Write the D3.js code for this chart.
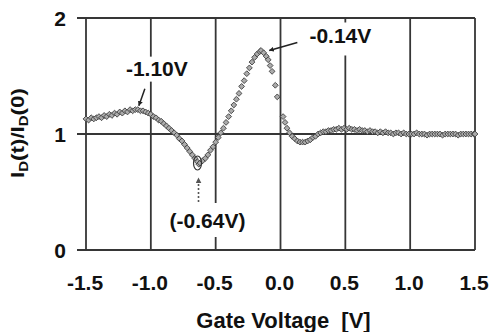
<!DOCTYPE html>
<html>
<head>
<meta charset="utf-8">
<script src="https://cdn.jsdelivr.net/npm/d3@7"></script>
<style>
  html, body { margin: 0; padding: 0; background: #fff; }
  svg { display: block; }
  text { font-family: "Liberation Sans", Arial, sans-serif; font-weight: bold; fill: #111; }
</style>
</head>
<body>
<script>
// ---- data ----
const gateV = [
  -1.50,-1.48,-1.46,-1.44,-1.42,-1.40,-1.38,-1.36,-1.34,-1.32,-1.30,-1.28,-1.26,-1.24,-1.22,-1.20,
  -1.18,-1.16,-1.14,-1.12,-1.10,-1.08,-1.06,-1.04,-1.02,-1.00,-0.98,-0.96,-0.94,-0.92,-0.90,-0.88,
  -0.86,-0.84,-0.82,-0.80,-0.78,-0.76,-0.74,-0.72,-0.70,-0.68,-0.66,-0.64,-0.63,-0.62,-0.60,-0.58,
  -0.56,-0.54,-0.52,-0.50,-0.48,-0.46,-0.44,-0.42,-0.40,-0.38,-0.36,-0.34,-0.32,-0.30,-0.28,-0.26,
  -0.24,-0.22,-0.20,-0.18,-0.16,-0.15,-0.13,-0.11,-0.095,-0.08,-0.065,-0.04,-0.025,0.02,0.035,0.05,
  0.07,0.09,0.11,0.13,0.15,0.17,0.19,0.21,0.23,0.25,0.27,0.29,0.31,0.33,0.35,0.37,0.39,0.41,0.43,
  0.45,0.47,0.49,0.51,0.53,0.55,0.57,0.59,0.61,0.63,0.65,0.67,0.69,0.71,0.73,0.75,0.77,0.79,0.81,
  0.83,0.85,0.87,0.89,0.91,0.93,0.95,0.97,0.99,1.01,1.03,1.05,1.07,1.09,1.11,1.13,1.15,1.17,1.19,
  1.21,1.23,1.25,1.27,1.29,1.31,1.33,1.35,1.37,1.39,1.41,1.43,1.45,1.47,1.49,1.50
];
const ratio = [
  1.13,1.12,1.14,1.13,1.14,1.15,1.14,1.16,1.15,1.17,1.16,1.18,1.17,1.19,1.18,1.20,
  1.19,1.21,1.20,1.21,1.21,1.20,1.20,1.19,1.18,1.17,1.15,1.14,1.12,1.11,1.09,1.07,
  1.05,1.03,1.01,0.99,0.96,0.94,0.91,0.88,0.85,0.82,0.79,0.76,0.74,0.75,0.77,0.79,
  0.82,0.86,0.89,0.93,0.97,1.01,1.05,1.10,1.15,1.20,1.25,1.30,1.35,1.41,1.46,1.52,
  1.57,1.62,1.66,1.69,1.71,1.72,1.70,1.67,1.64,1.59,1.54,1.42,1.32,1.15,1.10,1.05,
  1.01,0.98,0.96,0.94,0.93,0.93,0.93,0.94,0.95,0.97,0.98,1.00,1.01,1.02,1.02,1.03,1.03,1.04,1.04,
  1.05,1.04,1.05,1.04,1.05,1.04,1.04,1.03,1.04,1.03,1.03,1.02,1.03,1.02,1.02,1.01,1.02,1.01,1.02,
  1.01,1.01,1.00,1.01,1.01,1.00,1.01,1.00,1.00,1.00,1.00,1.01,1.00,1.00,1.00,0.99,1.00,1.00,1.00,
  1.00,1.00,0.99,1.00,1.00,1.00,1.00,1.00,0.99,1.00,1.00,1.00,1.00,1.00,1.00,1.00
];
const xTickValues = [-1.5, -1.0, -0.5, 0.0, 0.5, 1.0, 1.5];
const xTickLabels = ["-1.5", "-1.0", "-0.5", "0.0", "0.5", "1.0", "1.5"];
const yTickValues = [0, 1, 2];
const yTickLabels = ["0", "1", "2"];
const annotationLabels = ["-1.10V", "-0.14V", "(-0.64V)"];
const annotationV = [-1.10, -0.14, -0.64];
const annotationRatio = [1.21, 1.72, 0.75];
const xTitle = "Gate Voltage  [V]";

// ---- layout ----
const W = 495, H = 332;
const x = d3.scaleLinear().domain([-1.5, 1.5]).range([86, 475]);
const y = d3.scaleLinear().domain([0, 2]).range([250, 18]);
const gridColor = "#363636";

const svg = d3.select("body").append("svg").attr("width", W).attr("height", H);

const defs = svg.append("defs");
defs.append("marker").attr("id", "ah").attr("viewBox", "0 0 10 10")
  .attr("refX", 9).attr("refY", 5).attr("markerWidth", 5).attr("markerHeight", 5)
  .attr("markerUnits", "userSpaceOnUse").attr("orient", "auto")
  .append("path").attr("d", "M0,0L10,5L0,10Z").attr("fill", "#222");
defs.append("marker").attr("id", "ahg").attr("viewBox", "0 0 10 10")
  .attr("refX", 9).attr("refY", 5).attr("markerWidth", 6).attr("markerHeight", 6)
  .attr("markerUnits", "userSpaceOnUse").attr("orient", "auto")
  .append("path").attr("d", "M0,0L10,5L0,10Z").attr("fill", "#555");

// grid
const grid = svg.append("g");
grid.selectAll("line.h").data(yTickValues).join("line")
  .attr("x1", 77).attr("x2", x(1.5))
  .attr("y1", d => y(d)).attr("y2", d => y(d))
  .attr("stroke", gridColor).attr("stroke-width", 1.8);
grid.selectAll("line.v").data(xTickValues).join("line")
  .attr("x1", d => x(d)).attr("x2", d => x(d))
  .attr("y1", y(2)).attr("y2", y(0))
  .attr("stroke", gridColor).attr("stroke-width", 1.8);

// tick labels
svg.append("g").selectAll("text").data(yTickValues).join("text")
  .attr("x", 66).attr("y", d => y(d) + 7.5)
  .attr("text-anchor", "end").attr("font-size", 21)
  .text((d, i) => yTickLabels[i]);
svg.append("g").selectAll("text").data(xTickValues).join("text")
  .attr("x", d => x(d) - 1).attr("y", 290)
  .attr("text-anchor", "middle").attr("font-size", 21)
  .text((d, i) => xTickLabels[i]);

// axis titles
svg.append("text").attr("x", 283.5).attr("y", 328)
  .attr("text-anchor", "middle").attr("font-size", 22)
  .attr("xml:space", "preserve").style("white-space", "pre")
  .text(xTitle);

const yl = svg.append("text").attr("text-anchor", "middle").attr("font-size", 18);
yl.append("tspan").text("I");
yl.append("tspan").attr("font-size", 12).attr("baseline-shift", "-25%").text("D");
yl.append("tspan").text("(t)/I");
yl.append("tspan").attr("font-size", 12).attr("baseline-shift", "-25%").text("D");
yl.append("tspan").text("(0)");
const ylLen = yl.node().getComputedTextLength();
yl.attr("transform", `translate(24,133) rotate(-90) scale(${90 / ylLen},1.05)`);

// annotation backgrounds + texts
const ann = svg.append("g");
function label(i, tx, ty, padT, padB, padX) {
  const t = ann.append("text").attr("x", tx).attr("y", ty)
    .attr("text-anchor", "middle").attr("font-size", 21).text(annotationLabels[i]);
  const b = t.node().getBBox();
  ann.insert("rect", "text")
    .attr("x", b.x - padX).attr("y", b.y - padT)
    .attr("width", b.width + 2 * padX).attr("height", b.height + padT + padB)
    .attr("fill", "#fff");
}
const p0 = [x(annotationV[0]), y(annotationRatio[0])];
label(0, p0[0] + 19, p0[1] - 34, 0, 2, 3);
const p1 = [x(annotationV[1]), y(annotationRatio[1])];
label(1, p1[0] + 78, p1[1] - 7, 2, 8, 3);
const p2 = [x(annotationV[2]), y(annotationRatio[2])];
label(2, p2[0] + 10, p2[1] + 65, 6, 5, 3);

// data points
const diamond = "M0,-2.9L2.9,0L0,2.9L-2.9,0Z";
svg.append("g").selectAll("path").data(gateV).join("path")
  .attr("d", diamond)
  .attr("transform", (d, i) => `translate(${x(d)},${y(ratio[i])})`)
  .attr("fill", "#ababab").attr("stroke", "#3e3e3e").attr("stroke-width", 0.9);

// arrows
svg.append("line")
  .attr("x1", p0[0] + 7).attr("y1", p0[1] - 21)
  .attr("x2", p0[0] + 1).attr("y2", p0[1] - 4)
  .attr("stroke", "#222").attr("stroke-width", 1.5).attr("marker-end", "url(#ah)");
svg.append("line")
  .attr("x1", p1[0] + 35).attr("y1", p1[1] - 8)
  .attr("x2", p1[0] + 7).attr("y2", p1[1])
  .attr("stroke", "#222").attr("stroke-width", 1.5).attr("marker-end", "url(#ah)");
svg.append("ellipse")
  .attr("cx", p2[0]).attr("cy", p2[1]).attr("rx", 4).attr("ry", 7)
  .attr("fill", "none").attr("stroke", "#333").attr("stroke-width", 1.2);
svg.append("line")
  .attr("x1", p2[0] + 1).attr("y1", p2[1] + 39)
  .attr("x2", p2[0] + 1).attr("y2", p2[1] + 15)
  .attr("stroke", "#555").attr("stroke-width", 1.6).attr("stroke-dasharray", "2,2")
  .attr("marker-end", "url(#ahg)");
</script>
</body>
</html>
